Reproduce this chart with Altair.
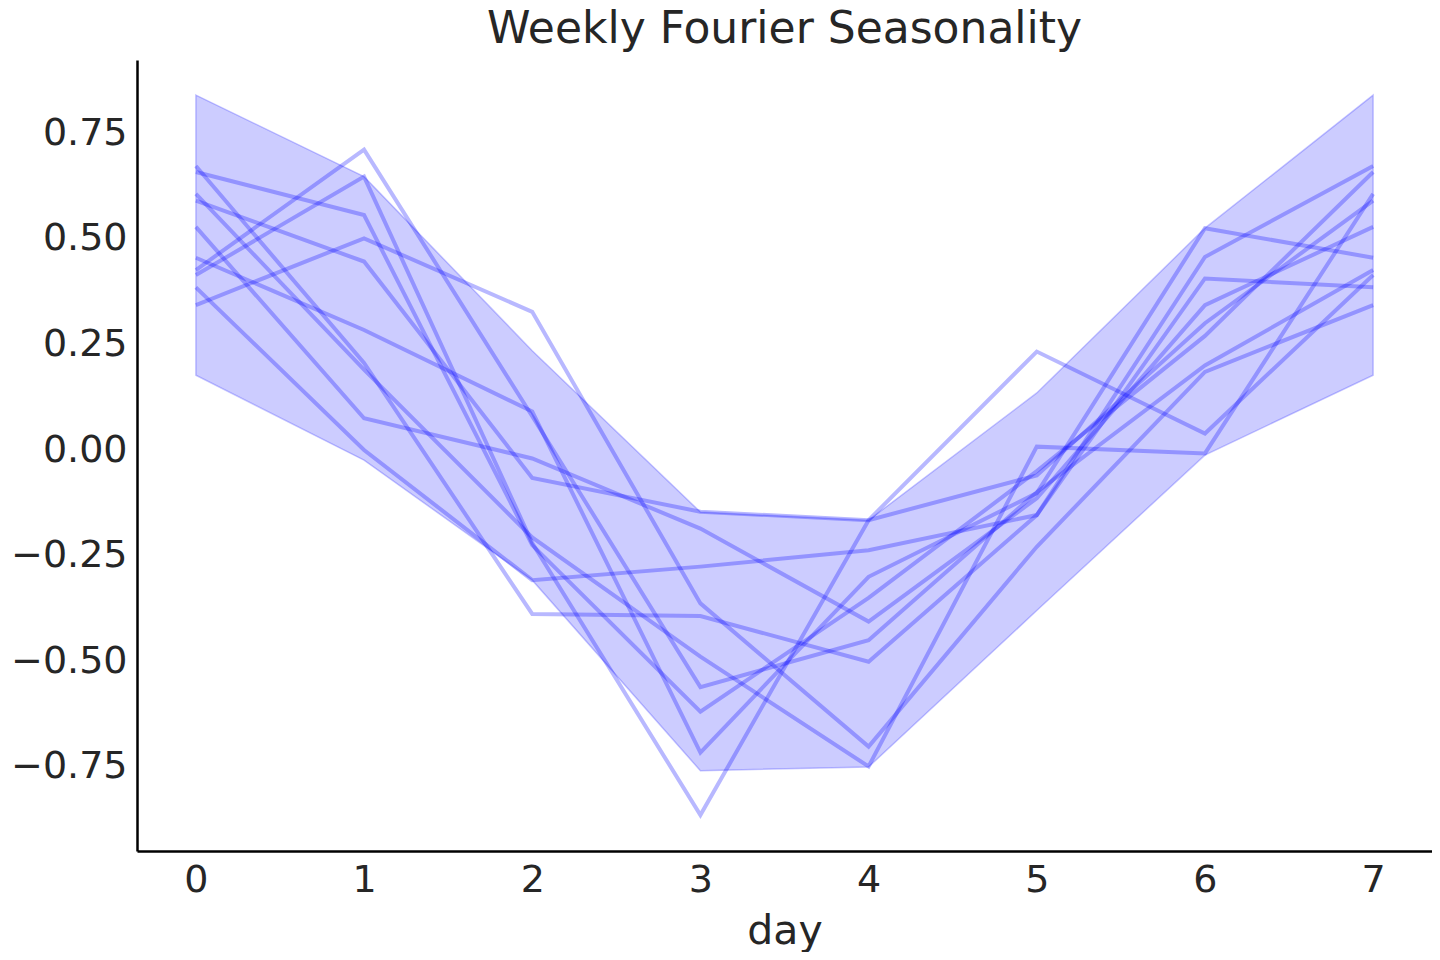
import altair as alt
import pandas as pd

days = [0, 1, 2, 3, 4, 5, 6, 7]

band_upper = [0.840, 0.647, 0.235, -0.147, -0.166, 0.135, 0.525, 0.840]
band_lower = [0.177, -0.024, -0.308, -0.759, -0.750, -0.380, -0.012, 0.177]

s_a = [0.672, 0.206, -0.388, -0.393, -0.501, -0.154, 0.457, 0.672]
s_b = [0.658, 0.556, -0.225, -0.619, -0.350, -0.050, 0.270, 0.658]
s_c = [0.606, 0.190, -0.207, -0.489, -0.749, 0.008, -0.008, 0.606]
s_d = [0.590, 0.446, -0.066, -0.146, -0.166, -0.060, 0.300, 0.590]
s_e = [0.528, 0.075, -0.020, -0.186, -0.406, -0.114, 0.343, 0.528]
s_f = [0.455, 0.284, 0.091, -0.716, -0.300, -0.102, 0.525, 0.455]
s_g = [0.426, 0.711, 0.080, -0.561, -0.450, -0.100, 0.200, 0.426]
s_h = [0.414, 0.647, -0.220, -0.864, -0.166, 0.233, 0.039, 0.414]
s_i = [0.385, 0.000, -0.308, -0.276, -0.237, -0.154, 0.406, 0.385]
s_j = [0.343, 0.501, 0.327, -0.363, -0.702, -0.229, 0.185, 0.343]

samples = [s_a, s_b, s_c, s_d, s_e, s_f, s_g, s_h, s_i, s_j]

y_ticks = [-0.75, -0.5, -0.25, 0.0, 0.25, 0.5, 0.75]

rows = []
for k, s in enumerate(samples):
    for d, v in zip(days, s):
        rows.append({"day": d, "value": v, "sample": k})
lines_df = pd.DataFrame(rows)
band_df = pd.DataFrame({"day": days, "lower": band_lower, "upper": band_upper})

FONT = "DejaVu Sans"
TXT = "#262626"

x_scale = alt.Scale(domain=[-0.35, 7.35], nice=False, zero=False)
y_scale = alt.Scale(domain=[-0.949, 0.923], nice=False, zero=False)

x_axis = alt.Axis(values=days, format="d", title="day", grid=False, ticks=False,
                  labelFontSize=38, labelPadding=10, titleFontSize=41, titlePadding=12,
                  domainColor="black", domainWidth=2.5, labelColor=TXT, titleColor=TXT,
                  labelFont=FONT, titleFont=FONT, titleFontWeight="normal")
y_axis = alt.Axis(values=y_ticks, format=".2f", title=None, grid=False, ticks=False,
                  labelFontSize=38, labelPadding=10,
                  domainColor="black", domainWidth=2.5, labelColor=TXT,
                  labelFont=FONT)

band = alt.Chart(band_df).mark_area(
    color="#0000ff", fillOpacity=0.2, stroke="#0000ff", strokeWidth=1.5, strokeOpacity=0.22
).encode(
    x=alt.X("day:Q", scale=x_scale, axis=x_axis),
    y=alt.Y("upper:Q", scale=y_scale, axis=y_axis),
    y2="lower:Q",
)

lines = alt.Chart(lines_df).mark_line(
    color="#0000ff", opacity=0.28, strokeWidth=4
).encode(
    x=alt.X("day:Q", scale=x_scale),
    y=alt.Y("value:Q", scale=y_scale),
    detail="sample:N",
)

chart = alt.layer(band, lines).properties(
    width=1295, height=791,
    title=alt.TitleParams("Weekly Fourier Seasonality", fontSize=44, font=FONT,
                          fontWeight="normal", color=TXT, anchor="middle", offset=8),
    autosize=alt.AutoSizeParams(type="none"),
    padding={"left": 129, "top": 52, "right": 0, "bottom": 101},
).configure_view(stroke=None)

chart.save("out.html", embed_options={"renderer": "svg", "actions": False})
